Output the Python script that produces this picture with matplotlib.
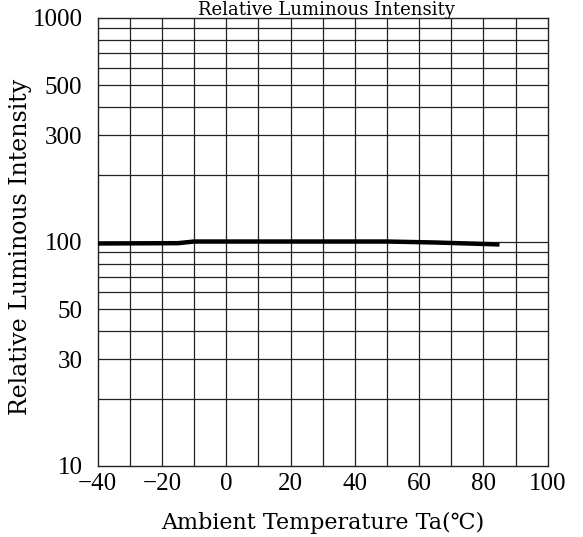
import matplotlib
matplotlib.use("Agg")
import matplotlib.pyplot as plt
from matplotlib.ticker import FixedLocator, NullFormatter, NullLocator

# Data
temps = [-40, -15, -10, 50, 65, 85]
intensity = [98.5, 98.8, 100.5, 100.5, 99.5, 97.5]

x_ticks = [-40, -20, 0, 20, 40, 60, 80, 100]
y_ticks = [10, 30, 50, 100, 300, 500, 1000]
x_grid = list(range(-30, 100, 10))
y_grid = [20, 30, 40, 50, 60, 70, 80, 90, 100, 200, 300, 400, 500, 600, 700, 800, 900]

fig = plt.figure(figsize=(5.83, 5.37), dpi=100)
ax = fig.add_axes([97.7/583, 1 - 466/537, 450/583, 448/537])

ax.set_yscale("log")
ax.set_xlim(-40, 100)
ax.set_ylim(10, 1000)

for gx in x_grid:
    ax.axvline(gx, color="#222222", lw=0.9, zorder=1)
for gy in y_grid:
    ax.axhline(gy, color="#222222", lw=0.9, zorder=1)

ax.plot(temps, intensity, color="black", lw=3.2, solid_capstyle="butt", zorder=3)

ax.xaxis.set_major_locator(FixedLocator(x_ticks))
ax.xaxis.set_minor_locator(NullLocator())
ax.yaxis.set_major_locator(FixedLocator(y_ticks))
ax.yaxis.set_minor_locator(NullLocator())
ax.yaxis.set_minor_formatter(NullFormatter())
ax.set_xticklabels([("\u2212" + str(-v)) if v < 0 else str(v) for v in x_ticks])
ax.set_yticklabels([str(v) for v in y_ticks])
ax.tick_params(axis="both", length=0, labelsize=18)
ax.tick_params(axis="y", pad=11)
ax.tick_params(axis="x", pad=5)
for lab in ax.get_xticklabels() + ax.get_yticklabels():
    lab.set_fontfamily("Liberation Serif")

for s in ax.spines.values():
    s.set_color("#222222")
    s.set_linewidth(1.0)

ax.set_xlabel("Ambient Temperature Ta(\u2103)", fontfamily="DejaVu Serif", fontsize=16)
ax.xaxis.set_label_coords(0.5, -(523 - 466) / 448, transform=ax.transAxes)
ax.xaxis.label.set_va("center")
ax.set_ylabel("Relative Luminous Intensity", fontfamily="DejaVu Serif", fontsize=17)
ax.yaxis.set_label_coords(-(97.7 - 21) / 450, 0.49, transform=ax.transAxes)
ax.yaxis.label.set_va("center")

fig.text(0.56, 0.999, "Relative Luminous Intensity", ha="center", va="top",
         fontfamily="DejaVu Serif", fontsize=13)

fig.savefig("out.png", dpi=100, facecolor="white")
